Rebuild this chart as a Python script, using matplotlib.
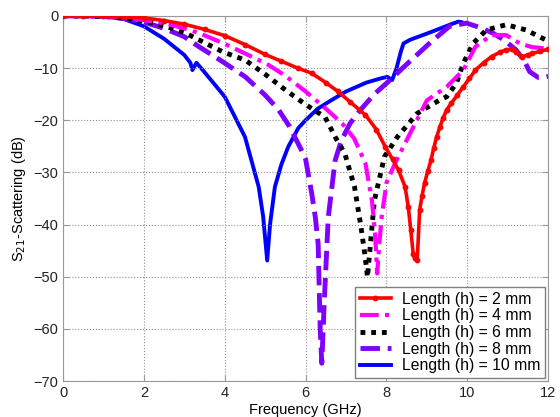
import numpy as np
import matplotlib
matplotlib.use('Agg')
import matplotlib.pyplot as plt

plt.rcParams["font.family"] = ["Liberation Sans", "DejaVu Sans"]

# 数据 (GHz, dB)
f_2mm = [0, 0.5, 1, 1.5, 2, 2.5, 3, 3.5, 4, 4.5, 5, 5.4, 5.8, 6.15, 6.5, 6.8, 7.1, 7.48,
         7.75, 7.97, 8.15, 8.3, 8.46, 8.54, 8.6, 8.66, 8.7, 8.76, 8.82, 8.88, 8.94, 9.02, 9.1,
         9.17, 9.24, 9.32, 9.4, 9.49, 9.6, 9.75, 9.9, 10.05, 10.2, 10.4, 10.6, 10.8, 10.96,
         11.1, 11.2, 11.35, 11.5, 11.6, 11.8, 12]
s_2mm = [0, 0, -0.1, -0.2, -0.4, -0.9, -1.6, -2.6, -3.8, -5.5, -7.4, -8.7, -10.0, -11.0,
         -12.8, -14.5, -16.5, -19.0, -21.8, -25.1, -27.5, -29.6, -32.8, -36.7, -41, -45.6,
         -46.5, -46.8, -37.2, -34.5, -32.1, -29.8, -27.7, -25.3, -23.2, -21.3, -19.6, -18.0,
         -16.8, -15.2, -13.6, -12.0, -10.4, -9.0, -7.8, -7.0, -6.5, -6.4, -7.0, -7.8, -7.5,
         -7.2, -6.8, -6.4]

f_4mm = [0, 1, 1.5, 2, 2.5, 3, 3.36, 3.95, 4.5, 5.08, 5.5, 6.0, 6.5, 6.9, 7.2, 7.48, 7.64,
         7.72, 7.77, 7.82, 7.88, 8.0, 8.21, 8.54, 9.0, 9.49, 9.9, 10.2, 10.6, 10.96, 11.3,
         11.6, 12]
s_4mm = [0, -0.1, -0.3, -0.8, -1.4, -2.4, -3.3, -5.2, -7.2, -9.4, -11.5, -14.5, -17.8,
         -20.6, -23.5, -28.3, -35.4, -42, -49.4, -44, -38.6, -32, -28.3, -23.2, -16.2,
         -13.6, -10.4, -5.9, -3.7, -3.7, -5.3, -6.0, -6.3]

f_6mm = [0, 1, 1.5, 2, 2.5, 3, 3.36, 3.95, 4.51, 5.0, 5.5, 6.0, 6.48, 6.73, 6.97, 7.21,
         7.37, 7.47, 7.53, 7.6, 7.7, 7.95, 8.27, 8.76, 9.3, 9.49, 9.73, 9.9, 10.14, 10.47,
         10.96, 11.45, 11.86, 12]
s_6mm = [0, -0.1, -0.4, -1.0, -1.9, -3.2, -4.6, -6.9, -8.5, -11.2, -14.2, -17.0, -19.4,
         -23.2, -26.4, -32.8, -40.5, -46, -50.1, -44, -35.4, -27.0, -23.2, -18.7, -16.2,
         -15.5, -12.9, -9.1, -5.3, -2.7, -1.7, -2.7, -4.3, -4.8]

f_8mm = [0, 1, 1.5, 2, 2.5, 3, 3.36, 3.95, 4.51, 5.0, 5.33, 5.6, 5.9, 6.0, 6.15, 6.24,
         6.31, 6.36, 6.4, 6.46, 6.56, 6.73, 6.88, 7.1, 7.36, 7.7, 8.09, 8.4, 8.75, 9.1, 9.56,
         9.98, 10.3, 10.63, 10.9, 11.2, 11.4, 11.54, 11.75, 11.95, 12]
s_8mm = [0, -0.1, -0.5, -1.2, -2.4, -4.0, -5.9, -8.8, -11.7, -15.2, -18.0, -21.2, -25.8,
         -27.5, -34.0, -38.6, -43.7, -60, -66.6, -55, -38.6, -27.7, -24.0, -20.6, -18.0,
         -15.0, -12.3, -10.0, -7.5, -5.0, -2.0, -1.4, -2.2, -3.3, -4.6, -6.5, -8.5, -10.7,
         -11.8, -11.7, -11.6]

f_10mm = [0, 0.5, 1, 1.5, 2, 2.5, 3, 3.15, 3.2, 3.3, 3.5, 4.0, 4.5, 4.84, 4.95, 5.05, 5.12,
          5.24, 5.4, 5.57, 5.82, 6.0, 6.3, 6.63, 7.0, 7.5, 7.85, 8.02, 8.14, 8.25, 8.35, 8.42,
          8.58, 9.0, 9.4, 9.6, 9.78, 9.85]
s_10mm = [0, 0, -0.1, -0.6, -2.0, -4.4, -7.5, -9.0, -10.4, -9.0, -10.8, -15.5, -23.2,
          -32.8, -38.5, -46.9, -40, -32.8, -28.5, -25.1, -21.5, -20.0, -17.8, -16.2, -14.5,
          -12.8, -12.0, -11.7, -12.3, -10.0, -7.0, -5.3, -4.6, -3.4, -2.2, -1.6, -1.1, -1.2]

labels = ['Length (h) = 2 mm', 'Length (h) = 4 mm', 'Length (h) = 6 mm',
          'Length (h) = 8 mm', 'Length (h) = 10 mm']

fig = plt.figure(figsize=(5.6, 4.17), dpi=100)
ax = fig.add_axes([0.1125, 0.0863, 0.8665, 0.8757])

ax.plot(f_2mm, s_2mm, color='#FF0000', lw=2.6, marker='o', ms=3.2, label=labels[0], zorder=5)
ax.plot(f_4mm, s_4mm, color='#FF00FF', lw=3, linestyle=(0, (4.5, 1.5, 1, 1.5)),
        label=labels[1], zorder=4)
ax.plot(f_6mm, s_6mm, color='black', lw=3.5, linestyle=(0, (1, 1.2)), label=labels[2],
        zorder=3)
ax.plot(f_8mm, s_8mm, color='#7F00FF', lw=3.5, linestyle=(0, (4, 1.6)), label=labels[3],
        zorder=2)
ax.plot(f_10mm, s_10mm, color='#0000FF', lw=2.8, label=labels[4], zorder=1)

ax.set_xlim(0, 12)
ax.set_ylim(-70, 0)
ax.set_xticks(np.arange(0, 13, 2))
ax.set_yticks(np.arange(-70, 1, 10))
ax.grid(True, linestyle=':', color='#909090', linewidth=0.8)
for sp in ax.spines.values():
    sp.set_color('#999999')
ax.tick_params(direction='in', colors='#999999', labelcolor='#222222', labelsize=10.5,
               length=4, top=True, right=True)

ax.set_xlabel('Frequency (GHz)', fontsize=10.5, labelpad=2)
ax.set_ylabel('S$_{21}$-Scattering (dB)', fontsize=10.5, labelpad=4)

leg = ax.legend(loc='lower right', fontsize=11.3, fancybox=False, framealpha=1,
                edgecolor='#808080', borderaxespad=0.2, handlelength=2.0,
                labelspacing=0.1, borderpad=0.3, handletextpad=0.7)
leg.get_frame().set_linewidth(1.0)

fig.savefig('out.png', dpi=100)
